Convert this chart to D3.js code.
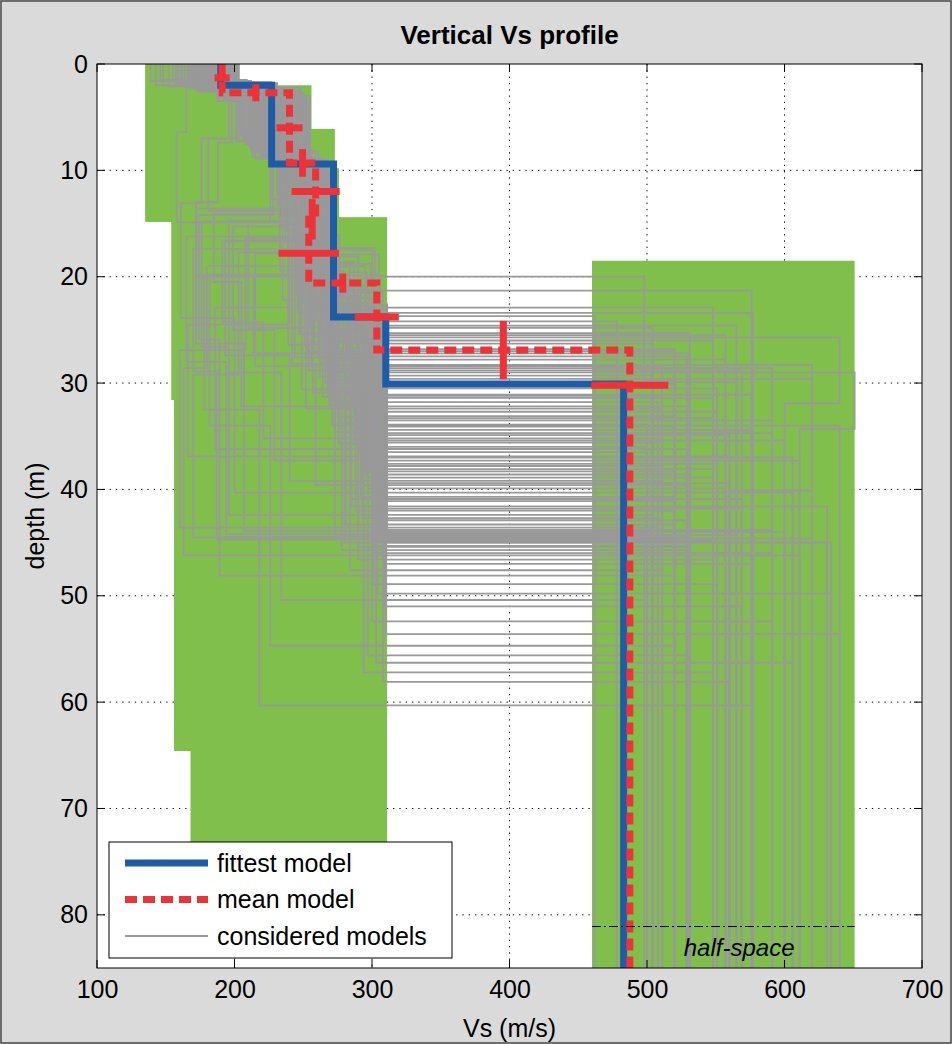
<!DOCTYPE html>
<html><head><meta charset="utf-8">
<script src="https://cdn.jsdelivr.net/npm/d3@7"></script>
<style>
body{margin:0;background:#d9d9d9;}
svg{display:block;font-family:"Liberation Sans",Arial,Helvetica,sans-serif;}
</style>
</head><body>
<svg id="chart" width="952" height="1044"></svg>
<script>
// ---------------- data ----------------
const xTicks = [100, 200, 300, 400, 500, 600, 700];
const yTicks = [0, 10, 20, 30, 40, 50, 60, 70, 80];
const xDomain = [100, 700];
const yDomain = [0, 85];

// search space boxes: [VsMin, VsMax, depthTop, depthBottom]
const searchSpace = [
  [135, 203, 0, 14.85],
  [154, 256, 2.0, 31.6],
  [156, 273, 6.1, 64.6],
  [168, 276, 9.8, 81],
  [185, 311, 14.4, 81],
  [460, 651, 18.5, 85]
];

// fittest model: layer Vs and layer bottom depths (last Vs = deepest layer)
const fittestVs = [190, 227, 272, 310, 483];
const fittestBottom = [2.0, 9.4, 23.8, 30.1];

// mean model and its standard deviations
const meanVs = [191, 240, 259, 254, 303.5, 487.5];
const meanBottom = [2.7, 9.3, 14.6, 20.6, 26.9];
const meanVsStd = [5.5, 9.5, 17.5, 22, 16, 28];
const meanVsBarDepth = [1.3, 6.0, 12.0, 17.8, 23.8, 30.2];
const meanDepthStd = [0.8, 1.3, 1.9, 0.9, 2.75];

const halfSpaceDepth = 81.1;

// considered models: [Vs1, bottom1, Vs2, bottom2, ..., VsLast]
const considered = [
  [188,2.1,226,9.0,268,16.5,274,23.4,309,30.1,520],
  [194,2.6,238,8.7,255,13.9,262,20.2,301,27.5,529],
  [182,1.8,231,7.6,248,12.8,259,19.6,296,24.2,478],
  [199,3.1,245,9.9,266,15.2,251,21.8,288,26.3,504],
  [176,2.4,219,6.8,241,11.5,257,17.9,305,22.9,548],
  [191,2.9,250,10.4,262,14.7,270,22.6,311,33.1,520],
  [169,1.6,212,8.1,236,13.2,248,20.8,292,25.5,557],
  [203,3.4,243,9.4,271,18.3,265,24.9,307,31.4,548],
  [185,2.2,234,7.1,253,12.2,244,19.1,284,23.7,462],
  [196,2.8,229,8.4,259,16.1,276,21.2,298,28.4,511],
  [143,2.0,205,6.5,239,10.8,261,17.3,302,29.3,504],
  [179,2.5,247,9.1,267,14.1,185,20.5,205,32.2,531],
  [192,1.9,221,8.9,264,15.8,258,23.1,310,34.4,576],
  [187,3.2,252,10.9,270,17.2,272,25.8,294,35.6,508],
  [171,2.3,216,7.9,233,12.5,252,18.6,287,24.6,565],
  [200,2.7,241,9.6,256,13.6,264,21.5,303,26.8,520],
  [183,1.7,227,6.9,246,11.9,269,19.9,306,30.5,551],
  [197,3.0,235,8.2,261,15.4,249,22.1,291,36.5,500],
  [152,2.1,198,7.4,188,13.0,172,20.0,214,27.2,531],
  [189,2.6,244,10.1,273,16.9,266,24.4,308,33.5,591],
  [174,2.0,223,8.6,251,14.3,256,22.8,299,37.8,511],
  [202,3.6,254,11.4,268,18.9,275,26.1,311,38.6,529],
  [186,2.4,232,7.8,244,12.1,233,19.4,279,28.8,569],
  [193,2.9,239,9.3,258,17.6,263,25.2,297,39.9,557],
  [146,1.5,209,6.3,235,11.2,254,18.1,290,23.4,577],
  [198,3.3,248,10.6,265,16.3,270,24.0,304,41.1,520],
  [180,2.2,225,8.0,249,13.4,245,21.0,286,31.8,508],
  [190,2.7,236,9.0,262,15.0,259,23.6,300,44.3,565],
  [158,1.9,201,7.2,226,14.8,176,26.6,196,42.4,504],
  [195,3.1,246,10.3,269,19.5,273,27.9,309,44.6,620],
  [177,2.5,220,8.8,243,16.6,191,24.3,221,35.2,511],
  [201,2.9,251,11.0,272,20.7,267,29.0,305,44.9,548],
  [184,1.8,228,7.3,252,12.9,260,20.9,295,32.7,551],
  [172,2.3,214,8.3,238,15.6,247,25.4,281,43.3,520],
  [194,2.6,242,9.8,260,17.9,271,27.3,302,45.3,531],
  [188,3.5,237,10.7,257,19.0,180,28.6,163,46.2,611],
  [148,2.0,207,6.7,231,12.3,250,22.4,289,34.7,591],
  [199,2.8,249,9.7,266,18.4,276,30.3,310,47.0,576],
  [181,2.1,224,8.5,245,14.5,255,24.7,293,36.0,500],
  [191,3.0,233,9.5,263,16.0,262,26.0,298,38.1,548],
  [155,1.7,196,7.0,176,13.1,161,23.9,200,40.3,606],
  [203,3.2,253,10.5,270,21.4,268,31.0,306,44.0,600],
  [178,2.4,218,8.1,240,15.3,199,25.0,229,37.3,611],
  [196,2.5,240,9.2,259,17.0,265,27.7,301,48.9,551],
  [185,1.9,230,7.7,250,13.7,257,21.9,291,29.6,620],
  [170,2.2,213,8.7,237,16.8,242,28.2,278,45.7,529],
  [193,3.3,247,10.2,267,20.1,272,29.7,307,39.4,560],
  [187,2.6,235,9.0,254,14.9,239,26.4,273,44.4,508],
  [139,1.6,203,6.6,227,12.7,246,23.3,285,41.6,631],
  [200,2.9,244,10.0,264,18.7,274,30.8,304,49.8,634],
  [183,2.3,226,8.3,247,15.9,253,27.0,288,42.0,520],
  [190,3.1,238,9.6,261,17.4,170,28.9,187,44.7,520],
  [175,2.0,217,7.5,242,14.0,258,25.6,296,38.9,548],
  [197,2.7,250,10.8,271,22.5,269,32.0,309,51.0,569],
  [161,1.8,204,7.0,181,13.8,240,24.5,166,36.9,560],
  [192,3.4,243,9.9,258,19.3,266,30.0,300,52.4,591],
  [180,2.4,222,8.6,246,16.4,208,26.9,160,43.6,508],
  [198,2.8,246,10.4,268,21.0,275,33.2,310,53.6,640],
  [168,2.1,211,7.8,234,15.1,244,27.6,280,45.0,634],
  [189,2.6,236,9.3,255,18.0,262,29.4,297,55.6,529],
  [157,1.7,165,6.4,158,14.9,235,22.2,271,34.0,640],
  [195,3.0,241,9.8,262,20.4,270,31.6,303,56.3,606],
  [182,2.2,229,8.4,248,16.2,165,28.0,194,44.2,498],
  [201,3.2,252,11.2,269,23.0,273,34.6,308,58.1,560],
  [173,2.5,215,8.9,239,17.5,249,30.6,284,47.6,511],
  [186,2.0,231,7.4,251,13.5,261,22.7,298,33.9,500],
  [194,2.9,245,10.1,265,19.8,178,32.5,218,60.3,577],
  [178,2.3,220,8.2,244,15.5,256,28.3,292,40.7,520],
  [159,1.9,202,7.3,228,14.2,174,25.9,189,48.1,520],
  [199,3.3,249,10.6,270,21.7,271,33.8,305,42.9,531],
  [184,2.1,227,8.0,253,14.6,259,24.1,294,37.6,551],
  [191,2.7,239,9.4,257,17.7,203,29.2,170,44.5,529],
  [167,2.2,210,7.6,232,13.3,246,21.6,282,31.1,576],
  [202,3.0,255,11.6,272,24.2,276,35.7,311,45.0,631],
  [179,2.4,223,8.7,247,16.7,193,27.4,240,39.2,511],
  [193,2.8,240,9.9,263,19.1,268,31.2,302,43.8,591],
  [162,1.6,206,6.9,233,14.4,251,26.2,290,46.6,548],
  [188,3.1,242,10.3,266,20.0,182,34.0,226,54.7,520],
  [176,2.3,219,8.5,243,16.0,252,27.1,287,35.4,600],
  [197,2.6,237,9.1,260,18.5,272,30.4,307,44.1,504],
  [190,2.5,233,8.8,259,14.0,268,17.5,300,21.3,576,34.5,548],
  [185,2.2,228,8.0,251,13.1,262,19.0,295,25.7,640,31.9,600],
  [196,2.9,240,9.6,264,15.7,271,23.2,305,29.0,651,34.3,611],
  [181,2.0,224,7.9,248,13.9,258,18.8,299,20.0,498,29.8,520],
  [192,2.7,237,9.2,261,16.6,266,24.9,303,28.3,620,40.1,560],
  [184,2.0,230,8.1,256,15.1,265,22.0,300,24.8,504],
  [195,2.4,244,9.7,263,17.1,254,23.0,292,25.3,531],
  [178,1.9,221,7.2,245,12.4,262,21.3,308,26.0,548],
  [189,3.0,235,8.9,258,16.2,270,22.5,297,27.0,520],
  [173,2.6,218,8.3,240,13.7,250,20.3,283,27.8,557],
  [201,2.2,248,10.2,268,18.1,272,24.5,310,28.6,591],
  [164,1.8,208,7.5,237,14.3,245,21.7,289,29.9,565],
  [192,2.8,240,9.0,261,15.9,269,25.1,304,31.2,511],
  [183,2.4,227,8.4,249,14.8,210,24.8,252,32.4,511],
  [198,3.2,251,10.8,271,19.7,275,28.7,309,33.3,548],
  [176,2.0,216,7.7,243,14.9,253,23.8,291,34.1,520],
  [187,2.7,233,9.2,255,17.3,261,27.5,298,34.9,560],
  [169,2.3,212,8.0,235,13.4,242,22.9,186,36.2,531],
  [194,3.1,246,10.0,266,18.9,273,29.8,306,37.0,606],
  [180,2.1,225,8.7,250,16.3,258,26.7,295,38.3,520],
  [190,2.9,238,9.5,259,17.8,215,28.4,259,39.6,531],
  [174,1.7,214,7.6,238,15.2,248,25.3,284,40.9,569],
  [199,2.5,247,10.7,269,20.6,274,31.8,310,41.8,569],
  [185,2.6,229,8.2,252,15.7,257,27.2,293,42.7,508],
  [166,2.0,207,7.1,231,13.6,172,26.3,207,43.9,577],
  [196,3.4,243,9.9,262,19.4,268,30.7,303,44.8,551],
  [181,2.2,223,8.5,246,16.1,254,28.8,290,45.4,529],
  [191,2.8,239,9.4,260,18.2,264,31.3,301,46.0,591],
  [171,2.1,213,7.9,236,14.7,196,29.0,234,50.4,500],
  [187,2.5,231,8.6,251,16.9,257,30.9,294,57.2,548]
];

const legendLabels = ["fittest model", "mean model", "considered models"];
const titleText = "Vertical Vs profile";
const xLabelText = "Vs (m/s)";
const yLabelText = "depth (m)";
const halfSpaceText = "half-space";

// ---------------- drawing ----------------
const W = 952, H = 1044;
const M = {left: 97, right: 922, top: 64, bottom: 968};
const svg = d3.select("#chart");
const x = d3.scaleLinear().domain(xDomain).range([M.left, M.right]);
const y = d3.scaleLinear().domain(yDomain).range([M.top, M.bottom]);

const GREEN = "#80bf4b", GRAY = "#999999", BLUE = "#1f5ca8", RED = "#ee3238";

// figure background and frame
svg.append("rect").attr("x", 0).attr("y", 0).attr("width", W).attr("height", H).attr("fill", "#dadada");
svg.append("rect").attr("x", 1).attr("y", 1).attr("width", W - 2).attr("height", H - 2)
   .attr("fill", "none").attr("stroke", "#4a4a4a").attr("stroke-width", 1.5);

// axes background
svg.append("rect").attr("x", M.left).attr("y", M.top)
   .attr("width", M.right - M.left).attr("height", M.bottom - M.top).attr("fill", "#ffffff");

svg.append("clipPath").attr("id", "clip").append("rect")
   .attr("x", M.left).attr("y", M.top).attr("width", M.right - M.left).attr("height", M.bottom - M.top);

// grid (dotted)
const grid = svg.append("g");
xTicks.slice(1, -1).forEach(t => grid.append("line")
  .attr("x1", x(t)).attr("x2", x(t)).attr("y1", M.top).attr("y2", M.bottom)
  .attr("stroke", "#000").attr("stroke-width", 1).attr("stroke-dasharray", "1.3,5"));
yTicks.slice(1).forEach(t => grid.append("line")
  .attr("y1", y(t)).attr("y2", y(t)).attr("x1", M.left).attr("x2", M.right)
  .attr("stroke", "#000").attr("stroke-width", 1).attr("stroke-dasharray", "1.3,5"));

const plot = svg.append("g").attr("clip-path", "url(#clip)");

// search space
plot.append("g").selectAll("rect").data(searchSpace).join("rect")
  .attr("x", d => x(d[0])).attr("width", d => x(d[1]) - x(d[0]))
  .attr("y", d => y(d[2])).attr("height", d => y(d[3]) - y(d[2]))
  .attr("fill", GREEN);

const line = d3.line().x(d => x(d[0])).y(d => y(d[1]));
function stepPts(vs, bottoms) {
  const pts = []; let top = 0;
  vs.forEach((v, i) => {
    const b = i < bottoms.length ? bottoms[i] : yDomain[1];
    pts.push([v, top], [v, b]); top = b;
  });
  return pts;
}
function parseModel(m) {
  const vs = [], b = [];
  m.forEach((v, i) => (i % 2 === 0 ? vs : b).push(v));
  return stepPts(vs, b);
}

// considered models
plot.append("g").selectAll("path").data(considered).join("path")
  .attr("d", d => line(parseModel(d)))
  .attr("fill", "none").attr("stroke", GRAY).attr("stroke-width", 1.8);

// fittest
plot.append("path").attr("d", line(stepPts(fittestVs, fittestBottom)))
  .attr("fill", "none").attr("stroke", BLUE).attr("stroke-width", 7);

// mean (dashed)
plot.append("path").attr("d", line(stepPts(meanVs, meanBottom)))
  .attr("fill", "none").attr("stroke", RED).attr("stroke-width", 7).attr("stroke-dasharray", "12,6");

// mean Vs error bars
plot.append("g").selectAll("line").data(meanVs).join("line")
  .attr("x1", (d, i) => x(d - meanVsStd[i])).attr("x2", (d, i) => x(d + meanVsStd[i]))
  .attr("y1", (d, i) => y(meanVsBarDepth[i])).attr("y2", (d, i) => y(meanVsBarDepth[i]))
  .attr("stroke", RED).attr("stroke-width", 7);
// mean depth error bars
plot.append("g").selectAll("line").data(meanBottom).join("line")
  .attr("x1", (d, i) => x((meanVs[i] + meanVs[i + 1]) / 2)).attr("x2", (d, i) => x((meanVs[i] + meanVs[i + 1]) / 2))
  .attr("y1", (d, i) => y(d - meanDepthStd[i])).attr("y2", (d, i) => y(d + meanDepthStd[i]))
  .attr("stroke", RED).attr("stroke-width", 7);

// half-space marker
plot.append("line").attr("x1", x(searchSpace[5][0])).attr("x2", x(searchSpace[5][1]))
  .attr("y1", y(halfSpaceDepth)).attr("y2", y(halfSpaceDepth))
  .attr("stroke", "#000").attr("stroke-width", 1).attr("stroke-dasharray", "9,3,2,3");
plot.append("text").attr("x", x(567)).attr("y", y(83.1)).attr("dy", "0.35em")
  .attr("text-anchor", "middle").attr("font-style", "italic").attr("font-size", 24)
  .attr("fill", "#000").text(halfSpaceText);

// axes box and ticks
svg.append("rect").attr("x", M.left).attr("y", M.top)
   .attr("width", M.right - M.left).attr("height", M.bottom - M.top)
   .attr("fill", "none").attr("stroke", "#000").attr("stroke-width", 1);
const TL = 8;
const tk = svg.append("g").attr("stroke", "#000").attr("stroke-width", 1);
xTicks.forEach(t => {
  tk.append("line").attr("x1", x(t)).attr("x2", x(t)).attr("y1", M.bottom).attr("y2", M.bottom - TL);
  tk.append("line").attr("x1", x(t)).attr("x2", x(t)).attr("y1", M.top).attr("y2", M.top + TL);
});
yTicks.forEach(t => {
  tk.append("line").attr("y1", y(t)).attr("y2", y(t)).attr("x1", M.left).attr("x2", M.left + TL);
  tk.append("line").attr("y1", y(t)).attr("y2", y(t)).attr("x1", M.right).attr("x2", M.right - TL);
});

// tick labels via axis generators (domain & tick lines hidden)
const FS = 25;
const gx = svg.append("g").attr("transform", `translate(0,${M.bottom})`)
  .call(d3.axisBottom(x).tickValues(xTicks).tickSize(0).tickPadding(12));
const gy = svg.append("g").attr("transform", `translate(${M.left},0)`)
  .call(d3.axisLeft(y).tickValues(yTicks).tickSize(0).tickPadding(9));
[gx, gy].forEach(g => {
  g.select(".domain").remove();
  g.selectAll("text").attr("font-size", FS).attr("font-family", "Liberation Sans, Arial, sans-serif").attr("fill", "#000");
});

// title and axis labels
svg.append("text").attr("x", (M.left + M.right) / 2).attr("y", 44).attr("text-anchor", "middle")
  .attr("font-size", 26).attr("font-weight", "bold").text(titleText);
svg.append("text").attr("x", (M.left + M.right) / 2).attr("y", 1037).attr("text-anchor", "middle")
  .attr("font-size", 25).text(xLabelText);
svg.append("text").attr("transform", `translate(44,${(M.top + M.bottom) / 2}) rotate(-90)`)
  .attr("text-anchor", "middle").attr("font-size", 25).text(yLabelText);

// legend
const lg = svg.append("g");
lg.append("rect").attr("x", 109).attr("y", 842).attr("width", 343).attr("height", 116)
  .attr("fill", "#fff").attr("stroke", "#000").attr("stroke-width", 1);
const legendStyles = [
  {stroke: BLUE, width: 7, dash: null},
  {stroke: RED, width: 7, dash: "12,6"},
  {stroke: GRAY, width: 1.8, dash: null}
];
legendLabels.forEach((lab, i) => {
  const yy = 863 + i * 36.5;
  const st = legendStyles[i];
  lg.append("line").attr("x1", 125).attr("x2", 208).attr("y1", yy).attr("y2", yy)
    .attr("stroke", st.stroke).attr("stroke-width", st.width).attr("stroke-dasharray", st.dash);
  lg.append("text").attr("x", 217).attr("y", yy).attr("dy", "0.35em").attr("font-size", 25).text(lab);
});
</script>
</body></html>
